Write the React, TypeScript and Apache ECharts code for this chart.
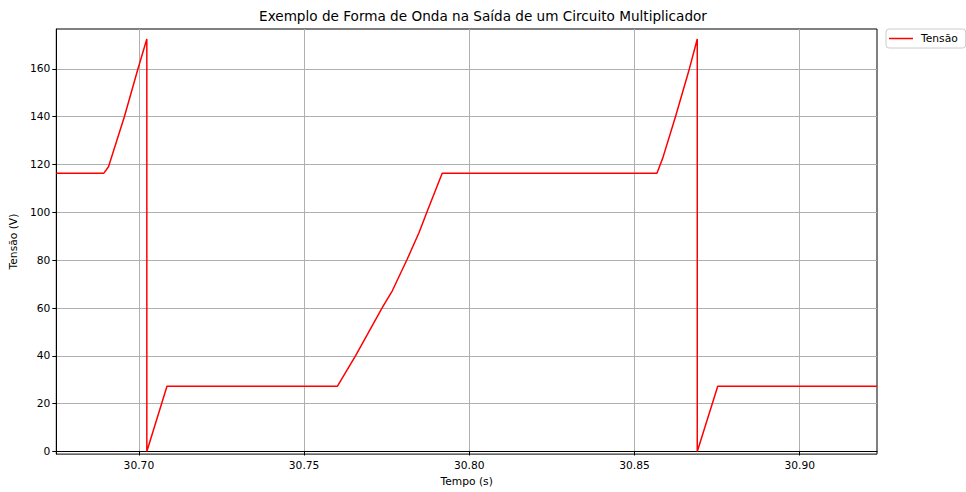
import React, { useEffect, useRef } from "react";
import * as echarts from "echarts";

const times = [30.675, 30.6894, 30.6908, 30.6956, 30.6997, 30.7024, 30.7024, 30.7085, 30.7601, 30.7656, 30.7737, 30.7767, 30.7812, 30.7848, 30.7873, 30.7918, 30.8568, 30.8586, 30.8624, 30.8666, 30.869, 30.869, 30.8752, 30.9234];
const volts = [116.4, 116.4, 119.1, 140, 160, 172.5, 0, 27.3, 27.3, 40.1, 60.3, 67.2, 80.4, 91.6, 100.6, 116.4, 116.4, 122.9, 140, 160, 172.5, 0, 27.3, 27.3];
const xTicks = [30.7, 30.75, 30.8, 30.85, 30.9];
const yTicks = [0, 20, 40, 60, 80, 100, 120, 140, 160];
const titleText = "Exemplo de Forma de Onda na Saída de um Circuito Multiplicador";
const seriesName = "Tensão";
const xName = "Tempo (s)";
const yName = "Tensão (V)";

const FONT = "DejaVu Sans";

export default function App() {
  const ref = useRef<HTMLDivElement>(null);
  useEffect(() => {
    if (!ref.current) return;
    const chart = echarts.init(ref.current, null, { renderer: "svg" });
    const data = times.map((t, i) => [t, volts[i]]);
    chart.setOption({
      animation: false,
      backgroundColor: "#fff",
      textStyle: { fontFamily: FONT },
      title: {
        text: titleText,
        left: "center",
        top: 9,
        padding: 0,
        textStyle: { fontFamily: FONT, fontSize: 13.6, fontWeight: "normal", color: "#000" },
      },
      legend: {
        left: 886,
        top: 29,
        orient: "vertical",
        borderColor: "#cccccc",
        borderWidth: 1,
        borderRadius: 3,
        padding: [4, 8, 4, 3],
        icon: "rect",
        itemWidth: 24,
        itemHeight: 1.5,
        textStyle: { fontFamily: FONT, fontSize: 10.7, color: "#000", padding: [0, 0, 0, 3] },
        data: [seriesName],
      },
      grid: {
        left: 55,
        top: 29,
        right: 89,
        bottom: 37,
        show: true,
        borderColor: "#000",
        borderWidth: 1,
      },
      xAxis: {
        type: "value",
        min: 30.675,
        max: 30.9234,
        name: xName,
        nameLocation: "middle",
        nameGap: 21,
        nameTextStyle: { fontFamily: FONT, fontSize: 10.7, color: "#000" },
        axisLine: { show: true, lineStyle: { color: "#000", width: 1 } },
        axisTick: { show: true, inside: false, length: 4, customValues: xTicks, lineStyle: { color: "#000" } },
        axisLabel: {
          customValues: xTicks,
          formatter: (v: number) => v.toFixed(2),
          fontFamily: FONT,
          fontSize: 10.7,
          color: "#000",
          margin: 6,
        },
        splitLine: { show: true, lineStyle: { color: "#b0b0b0", width: 1 } },
      },
      yAxis: {
        type: "value",
        min: -1.1,
        max: 176.7,
        name: yName,
        nameLocation: "middle",
        nameGap: 35,
        nameTextStyle: { fontFamily: FONT, fontSize: 10.7, color: "#000" },
        axisLine: { show: true, lineStyle: { color: "#000", width: 1 } },
        axisTick: { show: true, inside: false, length: 4, customValues: yTicks, lineStyle: { color: "#000" } },
        axisLabel: {
          customValues: yTicks,
          formatter: (v: number) => String(Math.round(v)),
          fontFamily: FONT,
          fontSize: 10.7,
          color: "#000",
          margin: 6,
        },
        splitLine: { show: true, lineStyle: { color: "#b0b0b0", width: 1 } },
      },
      series: [
        {
          name: seriesName,
          type: "line",
          data,
          symbol: "none",
          lineStyle: { color: "#ff0000", width: 1.5 },
          itemStyle: { color: "#ff0000" },
        },
      ],
    });
    return () => chart.dispose();
  }, []);
  return <div ref={ref} style={{ width: 966, height: 492, position: "fixed", left: 0, top: 0 }} />;
}
